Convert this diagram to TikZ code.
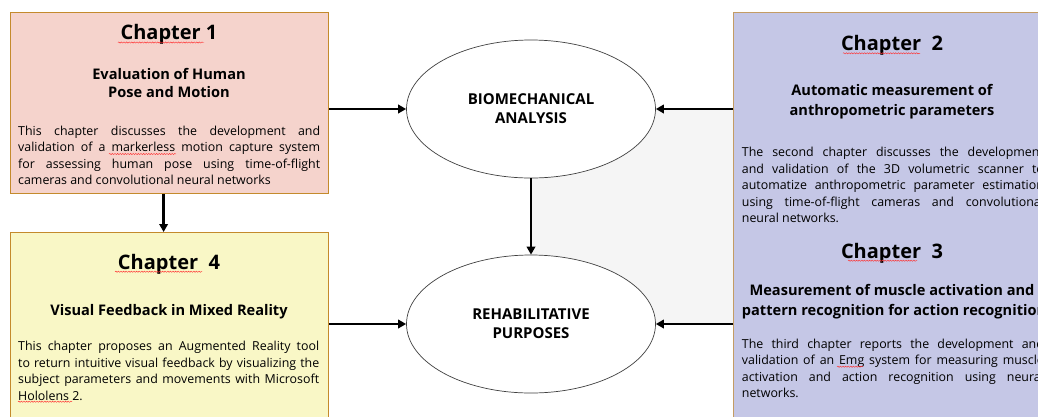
\documentclass[tikz,border=0pt]{standalone}
\usepackage{fontspec}
\setmainfont{Open Sans}
\usetikzlibrary{arrows.meta,decorations.pathmorphing,shapes.geometric}
\definecolor{pinkc}{HTML}{F5D3CC}
\definecolor{yellowc}{HTML}{F9F7C6}
\definecolor{lavc}{HTML}{C5C7E6}
\definecolor{edgec}{HTML}{C48A2C}
\definecolor{grayc}{HTML}{F5F5F5}
\newlength\jw
\newcommand\jl[1]{\hbox to\jw{#1}}
\hbadness=10000
\tikzset{
  chapbox/.style={draw=edgec, line width=1.2pt, anchor=north west, inner sep=0pt},
  ttl/.style={font=\bfseries\fontsize{20}{24}\selectfont, anchor=base, inner sep=0pt},
  sub/.style={font=\bfseries\fontsize{14.6}{19}\selectfont, anchor=base, inner sep=0pt},
  bodytext/.style={font=\fontsize{12.4}{16.5}\selectfont, anchor=base west, inner sep=0pt},
  ell/.style={ellipse, draw=black!75, line width=0.7pt, fill=white, minimum width=249pt, minimum height=138pt, inner sep=0pt, align=center, font=\bfseries\fontsize{15}{19}\selectfont},
  arr/.style={line width=2.4pt, -{Triangle[length=8pt,width=8.5pt]}},
  spell/.style={red!80!white, line width=0.45pt, decorate, decoration={snake, amplitude=0.6pt, segment length=2.6pt}}
}
\begin{document}
\begin{tikzpicture}[x=1pt,y=-1pt]
\useasboundingbox (0,0) rectangle (1038,416);
\clip (0,0) rectangle (1038,416);
\fill[white] (0,0) rectangle (1038,416);
% gray backdrop
\fill[grayc] (532,110) rectangle (733,323);
% boxes
\node[chapbox, fill=pinkc, minimum width=318pt, minimum height=181pt] (c1) at (10,12) {};
\node[chapbox, fill=yellowc, minimum width=318pt, minimum height=200pt] (c4) at (10,232) {};
\node[chapbox, draw=edgec!70!lavc, fill=lavc, minimum width=330pt, minimum height=420pt] (rb) at (733,12) {};
% ellipses
\node[ell] (bio) at (531,109) {BIOMECHANICAL\\ANALYSIS};
\node[ell] (reh) at (531,324) {REHABILITATIVE\\PURPOSES};
% arrows
\draw[arr] (c1.east |- bio) -- (bio.west);
\draw[arr] (c4.east |- reh) -- (reh.west);
\draw[arr] (rb.west |- bio) -- (bio.east);
\draw[arr] (rb.west |- reh) -- (reh.east);
\draw[arr] (bio.south) -- (reh.north);
\draw[arr] ([xshift=-6pt]c1.south) -- ([xshift=-6pt]c4.north);
% Chapter 1
\node[ttl] (t1) at (169,39.3) {Chapter 1};
\node[sub] (s1a) at (169,79) {Evaluation of Human};
\node[sub] (s1b) at (169,97.7) {Pose and Motion};
\node[bodytext] (b1) at (18,135) {\setlength\jw{302pt}\vtop{%
\jl{This chapter discusses the development and}
\jl{validation of a markerless motion capture system}
\jl{for assessing human pose using time-of-flight}
\hbox{cameras and convolutional neural networks}}};
% Chapter 4
\node[ttl] (t4) at (169,269) {Chapter\ \ 4};
\node[sub] (s4) at (169,315) {Visual Feedback in Mixed Reality};
\node[bodytext] (b4) at (18,350.7) {\setlength\jw{301pt}\vtop{%
\jl{This chapter proposes an Augmented Reality tool}
\jl{to return intuitive visual feedback by visualizing the}
\jl{subject parameters and movements with Microsoft}
\hbox{Hololens 2.}}};
% Chapter 2
\node[ttl] (t2) at (892,50.7) {Chapter\ \ 2};
\node[sub] (s2a) at (892,95.7) {Automatic measurement of};
\node[sub] (s2b) at (892,115) {anthropometric parameters};
\node[bodytext] (b2) at (741.7,156.7) {\setlength\jw{302pt}\vtop{%
\jl{The second chapter discusses the development}
\jl{and validation of the 3D volumetric scanner to}
\jl{automatize anthropometric parameter estimation}
\jl{using time-of-flight cameras and convolutional}
\hbox{neural networks.}}};
% Chapter 3
\node[ttl] (t3) at (892,258) {Chapter\ \ 3};
\node[sub] (s3a) at (892,295) {Measurement of muscle activation and};
\node[sub, anchor=base west] (s3b) at (741.7,315) {pattern recognition for action recognition};
\node[bodytext] (b3) at (741.7,348.3) {\setlength\jw{302pt}\vtop{%
\jl{The third chapter reports the development and}
\jl{validation of an Emg system for measuring muscle}
\jl{activation and action recognition using neural}
\hbox{networks.}}};
% spell-check squiggles
\draw[spell] (118,42.5) -- (204,42.5);
\draw[spell] (109,154) -- (176,154);
\draw[spell] (115,271.7) -- (202,271.7);
\draw[spell] (18,401.7) -- (72,401.7);
\draw[spell] (843,53.3) -- (920,53.3);
\draw[spell] (848,260.7) -- (917,260.7);
\draw[spell] (837,366.7) -- (863,366.7);
\end{tikzpicture}
\end{document}
